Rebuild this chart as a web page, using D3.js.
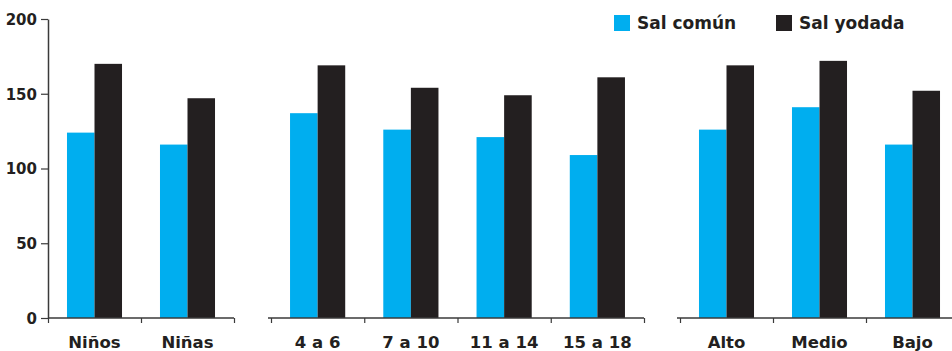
<!DOCTYPE html>
<html>
<head>
<meta charset="utf-8">
<script src="https://cdn.jsdelivr.net/npm/d3@7/dist/d3.min.js"></script>
<style>
  body { margin: 0; background: #fff; }
  svg text { font-family: "DejaVu Sans", sans-serif; font-weight: bold; fill: #231f20; }
</style>
</head>
<body>
<div id="chart"></div>
<script>
// data
var seriesNames = ["Sal común", "Sal yodada"];
var seriesColors = ["#00aeef", "#231f20"];

var sexCats = ["Niños", "Niñas"];
var sexComun = [124, 116];
var sexYodada = [170, 147];

var ageCats = ["4 a 6", "7 a 10", "11 a 14", "15 a 18"];
var ageComun = [137, 126, 121, 109];
var ageYodada = [169, 154, 149, 161];

var levelCats = ["Alto", "Medio", "Bajo"];
var levelComun = [126, 141, 116];
var levelYodada = [169, 172, 152];

var yTicks = [0, 50, 100, 150, 200];

var width = 952, height = 351;
var svg = d3.select("#chart").append("svg")
	.attr("width", width)
	.attr("height", height);

var y = d3.scaleLinear().domain([0, 200]).range([318, 19]);

// y axis
var yAxis = d3.axisLeft(y).tickValues(yTicks).tickSize(7).tickPadding(4).tickSizeOuter(0);
var gy = svg.append("g").attr("transform", "translate(48,0)").call(yAxis);
gy.select(".domain").attr("stroke", "#3a3a3a").attr("stroke-width", 1.5);
gy.selectAll(".tick line").attr("stroke", "#3a3a3a").attr("stroke-width", 1.2);
gy.selectAll(".tick text").style("font-size", "15px").attr("dy", "0.36em");

// three groups, each with its own band scale and axis segment
var groups = [
	{cats: sexCats, comun: sexComun, yodada: sexYodada, range: [48, 234], lineStart: 48},
	{cats: ageCats, comun: ageComun, yodada: ageYodada, range: [271, 644], lineStart: 268},
	{cats: levelCats, comun: levelComun, yodada: levelYodada, range: [680, 959], lineStart: 677}
];

groups.forEach(function(grp){
	var x0 = d3.scaleBand().domain(grp.cats).range(grp.range).paddingInner(0).paddingOuter(0);
	var x1 = d3.scaleBand().domain(seriesNames).range([0, x0.bandwidth()])
		.paddingInner(0).paddingOuter(0.69);

	var rows = grp.cats.map(function(c, i){
		return {cat: c, values: [grp.comun[i], grp.yodada[i]]};
	});

	var g = svg.append("g");
	g.selectAll("g.cat")
		.data(rows)
		.enter()
		.append("g")
		.attr("class", "cat")
		.attr("transform", function(d){ return "translate(" + x0(d.cat) + ",0)"; })
		.selectAll("rect")
		.data(function(d){ return d.values.map(function(v, j){ return {name: seriesNames[j], value: v, color: seriesColors[j]}; }); })
		.enter()
		.append("rect")
		.attr("x", function(d){ return x1(d.name); })
		.attr("y", function(d){ return y(d.value); })
		.attr("width", x1.bandwidth())
		.attr("height", function(d){ return y(0) - y(d.value); })
		.style("fill", function(d){ return d.color; });

	// axis segment with ticks at band edges
	var edge = d3.scaleLinear().domain([0, grp.cats.length]).range(grp.range);
	var xAxis = d3.axisBottom(edge)
		.tickValues(d3.range(grp.cats.length + 1))
		.tickFormat("")
		.tickSize(5)
		.tickSizeOuter(0);
	var gx = svg.append("g").attr("transform", "translate(0," + y(0) + ")").call(xAxis);
	gx.select(".domain").remove();
	gx.append("line")
		.attr("x1", grp.lineStart).attr("x2", Math.min(grp.range[1], width))
		.attr("stroke", "#3a3a3a").attr("stroke-width", 1.5);
	gx.selectAll(".tick line").attr("stroke", "#3a3a3a").attr("stroke-width", 1.2);

	svg.append("g").selectAll("text")
		.data(grp.cats)
		.enter()
		.append("text")
		.attr("x", function(d){ return x0(d) + x0.bandwidth() / 2; })
		.attr("y", 348)
		.attr("text-anchor", "middle")
		.style("font-size", "16.5px")
		.text(function(d){ return d; });
});

// legend
var legendX = [614, 776];
var legend = svg.append("g").selectAll("g")
	.data(seriesNames)
	.enter()
	.append("g")
	.attr("transform", function(d, i){ return "translate(" + legendX[i] + ",15)"; });
legend.append("rect")
	.attr("width", 16).attr("height", 16)
	.style("fill", function(d, i){ return seriesColors[i]; });
legend.append("text")
	.attr("x", 23).attr("y", 14)
	.style("font-size", "17px")
	.text(function(d){ return d; });
</script>
</body>
</html>
